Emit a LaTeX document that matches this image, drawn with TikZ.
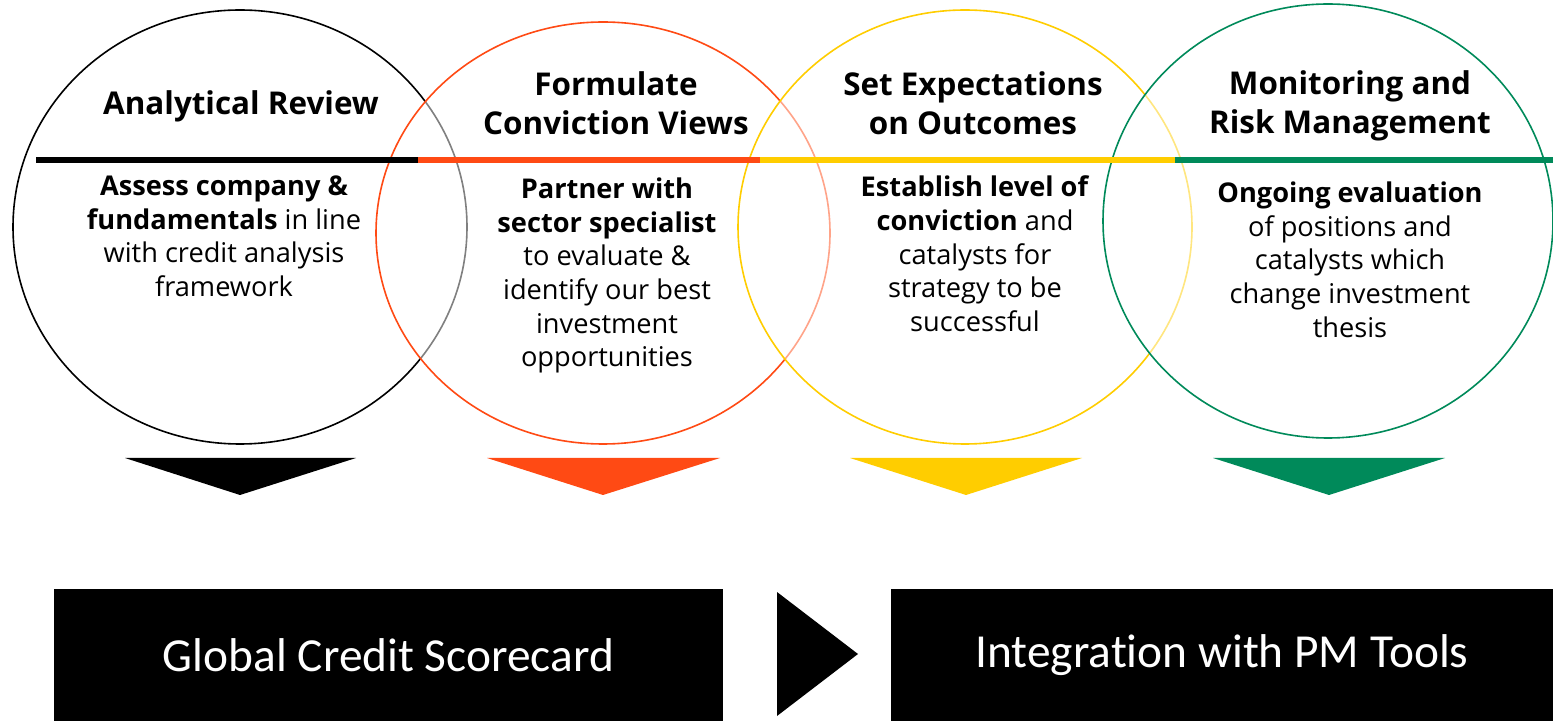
\documentclass[tikz,border=0pt]{standalone}
\usepackage{fontspec}
\setmainfont{Open Sans}
\newfontfamily\boxfont[Ligatures=NoCommon]{Carlito}
\usetikzlibrary{shapes.geometric}
\definecolor{stagered}{HTML}{FF4A14}
\definecolor{stageyellow}{HTML}{FFCD00}
\definecolor{stagegreen}{HTML}{008A5A}
\tikzset{
  stage/.style={ellipse,minimum width=227pt,minimum height=217pt,inner sep=0pt,line width=0.8pt,fill=white,fill opacity=0.5},
  title/.style={font=\bfseries\fontsize{15.7}{19.5}\selectfont,align=center},
  body/.style={font=\fontsize{13.6}{16.8}\selectfont,align=center},
  bar/.style={line width=3pt},
  bigbox/.style={fill=black,text=white,minimum height=66pt,inner sep=0pt,font=\boxfont\fontsize{23.7}{28}\selectfont},
}
\begin{document}
\begin{tikzpicture}[x=0.5pt,y=-0.5pt]
\useasboundingbox (0,0) rectangle (1553,721);

%stages
\node[stage,draw=black] (c1) at (240,227) {};
\node[stage,draw=stagered,minimum height=211pt] (c2) at (603,233) {};
\node[stage,draw=stageyellow] (c3) at (965,227) {};
\node[stage,draw=stagegreen,minimum width=225pt] (c4) at (1328,221) {};

%dividers
\coordinate (b0) at (36,160);
\coordinate (b1) at (418,160);
\coordinate (b2) at (760,160);
\coordinate (b3) at (1175,160);
\coordinate (b4) at (1553,160);
\draw[bar,black] (b0) -- (b1);
\draw[bar,stagered] (b1) -- (b2);
\draw[bar,stageyellow] (b2) -- (b3);
\draw[bar,stagegreen] (b3) -- (b4);

\node[title] (t1) at (241,106) {Analytical Review};
\node[title] (t2) at (616,103) {Formulate\\Conviction Views};
\node[title] (t3) at (973,103) {Set Expectations\\on Outcomes};
\node[title] (t4) at (1350,106) {Monitoring and\\Risk Management};

\node[body,anchor=north] (d1) at (224,169) {\textbf{Assess company \&}\\\textbf{fundamentals} in line\\with credit analysis\\framework};
\node[body,anchor=north] (d2) at (607,171) {\textbf{Partner with}\\\textbf{sector specialist}\\to evaluate \&\\identify our best\\investment\\opportunities};
\node[body,anchor=north] (d3) at (975,169) {\textbf{Establish level of}\\\textbf{conviction} and\\catalysts for\\strategy to be\\successful};
\node[body,anchor=north] (d4) at (1350,175) {\textbf{Ongoing evaluation}\\of positions and\\catalysts which\\change investment\\thesis};

%pointers
\fill[black] (125,458) -- (356,458) -- (240,495) -- cycle;
\fill[stagered] (487,458) -- (720,458) -- (603,495) -- cycle;
\fill[stageyellow] (850,458) -- (1082,458) -- (966,495) -- cycle;
\fill[stagegreen] (1213,458) -- (1445,458) -- (1329,495) -- cycle;

%tools
\node[bigbox,minimum width=334.5pt] (gcs) at (388.5,655) {Global Credit Scorecard};
\node[bigbox,minimum width=331pt] (pm) at (1222,655) {Integration with PM Tools};
\fill[black] (777,592) -- (858,654) -- (777,716) -- cycle;
\end{tikzpicture}
\end{document}
